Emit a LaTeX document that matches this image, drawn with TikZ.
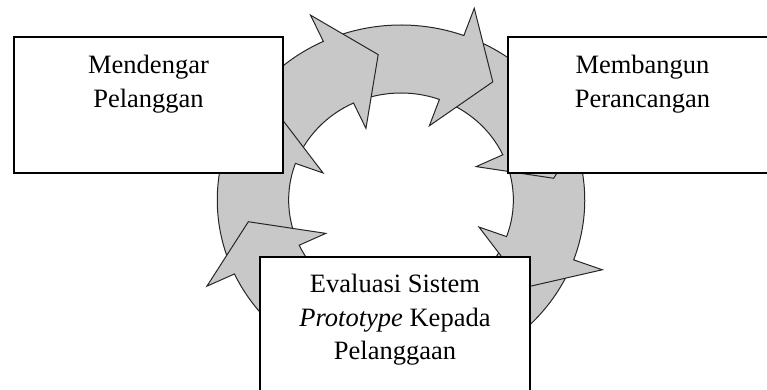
\documentclass[tikz,border=0pt]{standalone}
\usepackage{fontspec}
\setmainfont{Liberation Serif}
\usetikzlibrary{positioning}
\definecolor{ringgrey}{RGB}{200,200,200}
\tikzset{
  stagebox/.style={draw=black, line width=1.5pt, fill=white,
    minimum width=269pt, minimum height=136pt, inner sep=0pt},
  stagetext/.style={align=center, inner sep=0pt,
    font=\fontsize{26.5}{33.5}\selectfont}
}

\begin{document}
\begin{tikzpicture}[x=1pt,y=1pt]
  \useasboundingbox (0,0) rectangle (767,390);
  \clip (0,0) rectangle (767,390);

  % ring of eight curved arrows, clockwise
  \begin{scope}[shift={(401,190)}, xscale=1.05]
    \foreach \b in {-65,-20,...,250}
      \draw[fill=ringgrey, draw=black!85, line width=1pt]
        (\b+45:175pt) arc[start angle=\b+45, end angle=\b, radius=175pt]
        -- (\b:204pt) -- (\b-16.5:147pt) -- (\b:79pt) -- (\b:107pt)
        arc[start angle=\b, end angle=\b+45, radius=107pt] -- cycle;
  \end{scope}

  % the three stages
  \node[stagebox] (listen) at (148.5,285) {};
  \node[stagetext, below=19pt of listen.north] (listentext)
    {Mendengar\\Pelanggan};

  \node[stagebox] (build) at (642.5,285) {};
  \node[stagetext, below=19pt of build.north] (buildtext)
    {Membangun\\Perancangan};

  \node[stagebox, minimum width=270pt] (test) at (395,65) {};
  \node[stagetext, below=18pt of test.north] (testtext)
    {Evaluasi Sistem\\\textit{Prototype} Kepada\\Pelanggaan};

\end{tikzpicture}
\end{document}
